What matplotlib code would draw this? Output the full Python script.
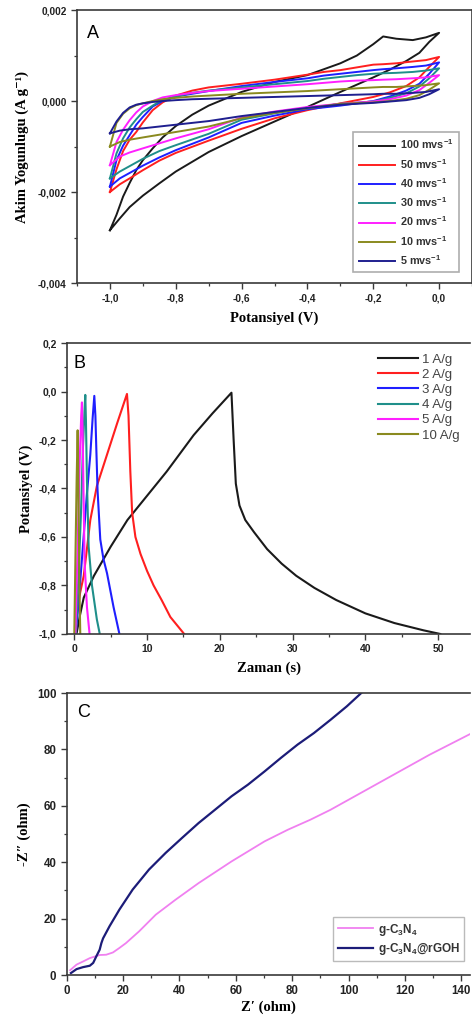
import numpy as np
import matplotlib
matplotlib.use("Agg")
import matplotlib.pyplot as plt
from matplotlib.ticker import MultipleLocator, FuncFormatter

plt.rcParams['mathtext.fontset'] = 'custom'
plt.rcParams['mathtext.rm'] = 'Liberation Sans'
plt.rcParams['mathtext.bf'] = 'Liberation Sans:bold'

# ---- panel A: cyclic voltammetry (forward and reverse potential grids) ----
v_fwd = [-1.0, -0.98, -0.96, -0.94, -0.92, -0.9, -0.87, -0.84, -0.8, -0.75, -0.7, -0.6,
         -0.5, -0.4, -0.35, -0.3, -0.25, -0.2, -0.17, -0.13, -0.08, -0.04, 0.0]
v_rev = [0.0, -0.03, -0.06, -0.1, -0.15, -0.2, -0.3, -0.4, -0.5, -0.6, -0.7, -0.8,
         -0.85, -0.9, -0.94, -0.97, -1.0]

cv_labels = ['100 mvs$^{\\mathbf{-1}}$', '50 mvs$^{\\mathbf{-1}}$', '40 mvs$^{\\mathbf{-1}}$',
             '30 mvs$^{\\mathbf{-1}}$', '20 mvs$^{\\mathbf{-1}}$', '10 mvs$^{\\mathbf{-1}}$',
             '5 mvs$^{\\mathbf{-1}}$']
cv_colors = ['#1a1a1a', '#ff1f1f', '#1f1fff', '#1f8f8a', '#ff1fff', '#8a8a1f', '#1f1f8f']

i_fwd_100 = [-2.84, -2.5, -2.1, -1.8, -1.52, -1.3, -1.04, -0.8, -0.55, -0.3, -0.1, 0.2,
             0.42, 0.57, 0.7, 0.83, 1.0, 1.25, 1.42, 1.37, 1.34, 1.4, 1.5]
i_rev_100 = [1.5, 1.3, 1.06, 0.88, 0.69, 0.52, 0.2, -0.13, -0.45, -0.77, -1.12, -1.55,
             -1.81, -2.08, -2.33, -2.58, -2.84]
i_fwd_50 = [-2.0, -1.5, -1.1, -0.85, -0.68, -0.47, -0.2, -0.03, 0.12, 0.23, 0.3, 0.38,
            0.47, 0.58, 0.64, 0.68, 0.74, 0.8, 0.81, 0.83, 0.87, 0.9, 0.97]
i_rev_50 = [0.97, 0.75, 0.52, 0.33, 0.19, 0.09, -0.05, -0.2, -0.38, -0.61, -0.87, -1.14,
            -1.31, -1.52, -1.7, -1.83, -2.0]
i_fwd_40 = [-1.88, -1.3, -0.98, -0.75, -0.52, -0.35, -0.12, 0.0, 0.1, 0.16, 0.22, 0.33,
            0.42, 0.5, 0.56, 0.6, 0.64, 0.68, 0.7, 0.72, 0.75, 0.78, 0.85]
i_rev_40 = [0.85, 0.6, 0.38, 0.23, 0.1, 0.0, -0.1, -0.18, -0.32, -0.48, -0.8, -1.08,
            -1.24, -1.42, -1.58, -1.7, -1.88]
i_fwd_30 = [-1.7, -1.15, -0.82, -0.58, -0.4, -0.24, -0.1, 0.03, 0.1, 0.18, 0.23, 0.3,
            0.37, 0.44, 0.49, 0.53, 0.57, 0.6, 0.61, 0.62, 0.64, 0.67, 0.72]
i_rev_30 = [0.72, 0.5, 0.32, 0.17, 0.07, -0.01, -0.06, -0.15, -0.27, -0.41, -0.72, -0.97,
            -1.1, -1.27, -1.43, -1.55, -1.7]
i_fwd_20 = [-1.41, -0.9, -0.63, -0.42, -0.25, -0.12, 0.0, 0.08, 0.13, 0.18, 0.22, 0.27,
            0.32, 0.37, 0.4, 0.43, 0.45, 0.46, 0.47, 0.48, 0.5, 0.52, 0.57]
i_rev_20 = [0.57, 0.4, 0.24, 0.12, 0.04, -0.01, -0.06, -0.13, -0.23, -0.36, -0.62, -0.82,
            -0.93, -1.04, -1.13, -1.22, -1.41]
i_fwd_10 = [-1.0, -0.48, -0.28, -0.16, -0.09, -0.05, 0.0, 0.04, 0.07, 0.1, 0.12, 0.16,
            0.19, 0.22, 0.24, 0.26, 0.28, 0.3, 0.31, 0.31, 0.33, 0.35, 0.39]
i_rev_10 = [0.39, 0.25, 0.13, 0.05, 0.0, -0.03, -0.06, -0.16, -0.26, -0.38, -0.56, -0.68,
            -0.74, -0.8, -0.85, -0.9, -1.0]
i_fwd_5 = [-0.71, -0.45, -0.26, -0.14, -0.08, -0.05, -0.02, 0.0, 0.02, 0.04, 0.05, 0.07,
           0.09, 0.11, 0.12, 0.13, 0.14, 0.15, 0.16, 0.16, 0.18, 0.2, 0.26]
i_rev_5 = [0.26, 0.15, 0.07, 0.02, -0.01, -0.04, -0.08, -0.15, -0.24, -0.33, -0.44, -0.52,
           -0.56, -0.6, -0.62, -0.65, -0.71]

cv_fwd = [i_fwd_100, i_fwd_50, i_fwd_40, i_fwd_30, i_fwd_20, i_fwd_10, i_fwd_5]
cv_rev = [i_rev_100, i_rev_50, i_rev_40, i_rev_30, i_rev_20, i_rev_10, i_rev_5]

# ---- panel B: galvanostatic charge / discharge ----
gcd_labels = ['1 A/g', '2 A/g', '3 A/g', '4 A/g', '5 A/g', '10 A/g']
gcd_colors = ['#1a1a1a', '#ff1f1f', '#1f1fff', '#1f8f8a', '#ff1fff', '#8a8a1f']

t_1 = [0.3, 0.8, 1.3, 2.7, 5.0, 7.3, 10.0, 12.7, 16.4, 19.0, 21.6,
       21.9, 22.2, 22.7, 23.5, 24.7, 26.5, 28.5, 30.5, 33.0, 36.0, 40.0, 44.0, 48.0, 50.3]
u_1 = [-1.0, -0.92, -0.85, -0.76, -0.64, -0.53, -0.43, -0.33, -0.18, -0.09, -0.005,
       -0.2, -0.38, -0.47, -0.53, -0.58, -0.65, -0.71, -0.76, -0.81, -0.86, -0.915, -0.955, -0.985, -1.0]
t_2 = [0.2, 0.4, 0.8, 1.3, 2.2, 3.1, 4.5, 5.9, 7.24, 7.45, 7.7, 7.95, 8.4, 9.1, 10.0, 10.9, 12.0, 13.2, 15.1]
u_2 = [-1.0, -0.91, -0.83, -0.76, -0.53, -0.39, -0.26, -0.13, -0.01, -0.1, -0.33, -0.5, -0.6,
       -0.67, -0.74, -0.8, -0.86, -0.93, -1.0]
t_3 = [0.2, 0.5, 0.82, 1.28, 1.74, 2.2, 2.52, 2.75, 2.9, 3.02, 3.2, 3.57, 4.0, 4.5, 5.4, 6.2]
u_3 = [-1.0, -0.9, -0.78, -0.6, -0.42, -0.26, -0.11, -0.018, -0.1, -0.23, -0.41, -0.61, -0.69,
       -0.75, -0.89, -1.0]
t_4 = [0.2, 0.59, 0.92, 1.19, 1.4, 1.51, 1.6, 1.74, 1.97, 2.43, 3.1, 3.5]
u_4 = [-1.0, -0.75, -0.5, -0.23, -0.08, -0.014, -0.12, -0.37, -0.64, -0.8, -0.94, -1.0]
t_5 = [0.15, 0.46, 0.73, 0.95, 1.05, 1.15, 1.28, 1.42, 1.74, 2.1]
u_5 = [-1.0, -0.64, -0.3, -0.1, -0.045, -0.18, -0.44, -0.71, -0.89, -1.0]
t_10 = [0.0, 0.18, 0.32, 0.46, 0.53, 0.6, 0.73, 0.82]
u_10 = [-1.0, -0.64, -0.37, -0.16, -0.3, -0.5, -0.85, -1.0]

gcd_t = [t_1, t_2, t_3, t_4, t_5, t_10]
gcd_u = [u_1, u_2, u_3, u_4, u_5, u_10]

# ---- panel C: Nyquist plot ----
z_re_gcn = [1.2, 3.5, 5.8, 8.2, 11.7, 14.0, 16.4, 18.7, 21.0, 25.7, 31.6, 38.6, 46.8, 58.5,
            70.2, 78.4, 86.5, 93.6, 105.3, 117.0, 128.7, 143.0]
z_im_gcn = [1.7, 3.7, 4.8, 6.0, 7.1, 7.2, 8.0, 9.6, 11.3, 15.5, 21.4, 26.7, 32.6, 40.3,
            47.4, 51.5, 55.1, 58.6, 65.1, 71.6, 78.1, 85.4]
z_re_rgo = [1.5, 3.5, 5.8, 8.2, 9.4, 10.5, 11.7, 12.3, 12.9, 15.2, 18.7, 23.4, 29.2, 35.1,
            40.9, 46.8, 52.6, 58.5, 64.3, 70.2, 76.0, 81.9, 87.7, 93.6, 99.4, 104.5]
z_im_rgo = [0.7, 2.1, 2.8, 3.3, 4.3, 6.6, 9.0, 11.3, 13.0, 17.3, 23.2, 30.3, 37.4, 43.3,
            48.6, 53.9, 58.6, 63.4, 67.5, 72.2, 77.0, 81.7, 85.8, 90.5, 95.3, 100.0]

SANS = ['Liberation Sans', 'DejaVu Sans']
SERIF = ['Liberation Serif', 'DejaVu Serif']
SPINE = '#3a3a3a'


def comma_fmt(digits):
    def f(v, _):
        s = f"{v:.{digits}f}"
        if s.startswith('-') and float(s) == 0:
            s = s[1:]
        return s.replace('.', ',')
    return FuncFormatter(f)


def style_axes(ax, size, right=True):
    for side in ['left', 'bottom', 'top', 'right']:
        ax.spines[side].set_color(SPINE)
        ax.spines[side].set_linewidth(1.2)
    ax.spines['right'].set_visible(right)
    ax.tick_params(which='both', direction='out', top=False, right=False, color=SPINE)
    ax.tick_params(which='major', length=4, width=1)
    ax.tick_params(which='minor', length=2.5, width=0.9)
    for lab in ax.get_xticklabels() + ax.get_yticklabels():
        lab.set_family(SANS)
        lab.set_fontweight('bold')
        lab.set_fontsize(size)
        lab.set_color('#222222')


fig = plt.figure(figsize=(4.72, 10.27), dpi=100)

# Panel A
axA = fig.add_axes([0.1631, 0.7244, 0.837, 0.2658])
for k in range(len(cv_labels)):
    v = v_fwd + v_rev[1:]
    cur = np.array(cv_fwd[k] + cv_rev[k][1:]) * 1e-3
    axA.plot(v, cur, color=cv_colors[k], lw=1.4, label=cv_labels[k])
axA.set_xlim(-1.1, 0.1)
axA.set_ylim(-0.004, 0.002)
axA.xaxis.set_major_locator(MultipleLocator(0.2))
axA.xaxis.set_minor_locator(MultipleLocator(0.1))
axA.yaxis.set_major_locator(MultipleLocator(0.002))
axA.yaxis.set_minor_locator(MultipleLocator(0.001))
axA.xaxis.set_major_formatter(comma_fmt(1))
axA.yaxis.set_major_formatter(comma_fmt(3))
style_axes(axA, 7.3)
axA.set_xlabel('Potansiyel (V)', family=SERIF, fontweight='bold', fontsize=10.5, labelpad=6)
axA.set_ylabel('Akim Yogunlugu (A g⁻¹)', family=SERIF, fontweight='bold', fontsize=10.5, labelpad=6)
axA.text(0.025, 0.915, 'A', transform=axA.transAxes, fontsize=13, family=SANS, va='center')
legA = axA.legend(loc='lower right', bbox_to_anchor=(0.98, 0.02), frameon=True, fancybox=False,
                  edgecolor='#999999', handlelength=3.4, labelspacing=0.5, borderpad=0.5,
                  handletextpad=0.4, prop={'family': SANS, 'weight': 'bold', 'size': 7.8})
legA.get_frame().set_linewidth(1.2)
for t in legA.get_texts():
    t.set_color('#333333')

# Panel B
axB = fig.add_axes([0.142, 0.3827, 0.854, 0.2833])
for k in range(len(gcd_labels)):
    axB.plot(gcd_t[k], gcd_u[k], color=gcd_colors[k], lw=1.5, label=gcd_labels[k])
axB.set_xlim(-1, 54.4)
axB.set_ylim(-1.0, 0.2)
axB.xaxis.set_major_locator(MultipleLocator(10))
axB.xaxis.set_minor_locator(MultipleLocator(5))
axB.yaxis.set_major_locator(MultipleLocator(0.2))
axB.yaxis.set_minor_locator(MultipleLocator(0.1))
axB.yaxis.set_major_formatter(comma_fmt(1))
style_axes(axB, 7.5, right=False)
axB.set_xlabel('Zaman (s)', family=SERIF, fontweight='bold', fontsize=10.5, labelpad=5)
axB.set_ylabel('Potansiyel (V)', family=SERIF, fontweight='bold', fontsize=10.5, labelpad=4)
axB.text(0.015, 0.93, 'B', transform=axB.transAxes, fontsize=13, family=SANS, va='center')
legB = axB.legend(loc='upper right', bbox_to_anchor=(1.0, 1.0), frameon=False,
                  handlelength=3.0, labelspacing=0.22, handletextpad=0.3, borderpad=0.3,
                  prop={'family': SANS, 'size': 9.5})
for t in legB.get_texts():
    t.set_color('#444444')

# Panel C
axC = fig.add_axes([0.1413, 0.0506, 0.854, 0.2746])
axC.plot(z_re_gcn, z_im_gcn, color='#f080f0', lw=1.3, label='g-C$_\\mathbf{3}$N$_\\mathbf{4}$')
axC.plot(z_re_rgo, z_im_rgo, color='#1c1c78', lw=1.6, label='g-C$_\\mathbf{3}$N$_\\mathbf{4}$@rGOH')
axC.set_xlim(0, 143)
axC.set_ylim(0, 100)
axC.xaxis.set_major_locator(MultipleLocator(20))
axC.xaxis.set_minor_locator(MultipleLocator(10))
axC.yaxis.set_major_locator(MultipleLocator(20))
axC.yaxis.set_minor_locator(MultipleLocator(10))
style_axes(axC, 8.3, right=False)
axC.set_xlabel('Z′ (ohm)', family=SERIF, fontweight='bold', fontsize=10.5, labelpad=2)
axC.set_ylabel('-Z″ (ohm)', family=SERIF, fontweight='bold', fontsize=10.5, labelpad=4)
axC.text(0.027, 0.93, 'C', transform=axC.transAxes, fontsize=13, family=SANS, va='center')
legC = axC.legend(loc='lower right', bbox_to_anchor=(1.0, 0.028), frameon=True, fancybox=False,
                  edgecolor='#aaaaaa', handlelength=3.0, labelspacing=0.3, borderpad=0.35,
                  handletextpad=0.4, prop={'family': SANS, 'weight': 'bold', 'size': 8.5})
legC.get_frame().set_linewidth(1.0)
for t in legC.get_texts():
    t.set_color('#333333')

fig.savefig('out.png', dpi=100)
